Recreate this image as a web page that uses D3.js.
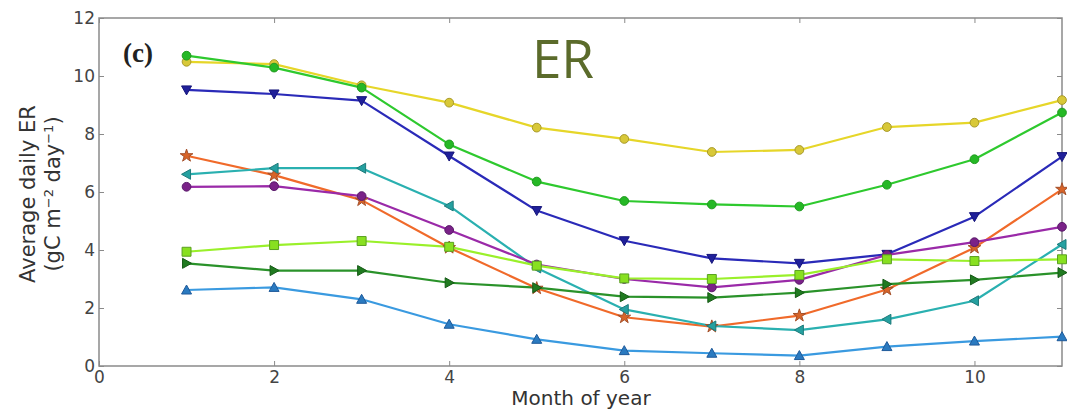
<!DOCTYPE html>
<html>
<head>
<meta charset="utf-8">
<script src="https://cdn.jsdelivr.net/npm/d3@7"></script>
<style>
    body { margin: 0; background: #fff; }
    svg { display: block; font-family: "DejaVu Sans", sans-serif; }
</style>
</head>
<body>
<svg id="chart" width="1067" height="418"></svg>
<script>
const months = [1, 2, 3, 4, 5, 6, 7, 8, 9, 10, 11];
const xTicks = [0, 2, 4, 6, 8, 10];
const yTicks = [0, 2, 4, 6, 8, 10, 12];

const yellowSeries = [10.49, 10.41, 9.68, 9.08, 8.22, 7.83, 7.38, 7.45, 8.24, 8.39, 9.17];
const greenSeries = [10.7, 10.29, 9.6, 7.64, 6.36, 5.69, 5.57, 5.5, 6.25, 7.13, 8.74];
const blueSeries = [9.52, 9.38, 9.15, 7.24, 5.36, 4.32, 3.71, 3.54, 3.85, 5.15, 7.22];
const orangeSeries = [7.25, 6.58, 5.72, 4.08, 2.68, 1.68, 1.36, 1.74, 2.64, 4.08, 6.09];
const tealSeries = [6.61, 6.82, 6.82, 5.52, 3.38, 1.95, 1.38, 1.24, 1.61, 2.25, 4.19];
const purpleSeries = [6.18, 6.2, 5.86, 4.69, 3.5, 3.0, 2.71, 2.97, 3.83, 4.27, 4.8];
const limeSeries = [3.94, 4.17, 4.31, 4.11, 3.46, 3.02, 3.0, 3.14, 3.68, 3.62, 3.68];
const darkGreenSeries = [3.54, 3.29, 3.29, 2.87, 2.7, 2.39, 2.36, 2.53, 2.82, 2.97, 3.22];
const skySeries = [2.62, 2.71, 2.3, 1.44, 0.92, 0.53, 0.44, 0.36, 0.67, 0.86, 1.01];

const seriesList = [
    {values: yellowSeries, line: "#e6d629", edge: "#a89a2a", fill: "#d8c838", marker: "circle"},
    {values: greenSeries, line: "#2ec92e", edge: "#1f9a1f", fill: "#25b825", marker: "circle"},
    {values: blueSeries, line: "#2a2ab8", edge: "#15157a", fill: "#20209a", marker: "down"},
    {values: orangeSeries, line: "#f06a2a", edge: "#a4502a", fill: "#d86428", marker: "star"},
    {values: tealSeries, line: "#2ab0b0", edge: "#1d7a7a", fill: "#25a0a0", marker: "left"},
    {values: purpleSeries, line: "#9a2aa8", edge: "#5a1a6a", fill: "#7a2288", marker: "circle"},
    {values: limeSeries, line: "#9af02a", edge: "#5aa020", fill: "#88e020", marker: "square"},
    {values: darkGreenSeries, line: "#2a922a", edge: "#155a15", fill: "#207a20", marker: "right"},
    {values: skySeries, line: "#3a9ae0", edge: "#1f5a9a", fill: "#2a7ac0", marker: "up"}
];

const plot = {left: 99, right: 1062, top: 18, bottom: 366};
const svg = d3.select("#chart");

const x = d3.scaleLinear().domain([0, 11]).range([plot.left, plot.right]);
const y = d3.scaleLinear().domain([0, 12]).range([plot.bottom, plot.top]);

// frame
svg.append("rect")
    .attr("x", plot.left).attr("y", plot.top)
    .attr("width", plot.right - plot.left).attr("height", plot.bottom - plot.top)
    .attr("fill", "none").attr("stroke", "#8a8a8a").attr("stroke-width", 1.5);

function styleAxis(g) {
    g.select(".domain").remove();
    g.selectAll(".tick line").attr("stroke", "#8a8a8a");
    g.selectAll(".tick text").attr("fill", "#444").style("font-size", "17px")
        .style("font-family", "'DejaVu Sans', sans-serif");
}

svg.append("g").attr("transform", `translate(0,${plot.bottom})`)
    .call(d3.axisBottom(x).tickValues(xTicks).tickSize(-5).tickPadding(5).tickFormat(d3.format("d")))
    .call(styleAxis);
svg.append("g").attr("transform", `translate(0,${plot.top})`)
    .call(d3.axisTop(x).tickValues(xTicks).tickSize(-5).tickFormat(""))
    .call(styleAxis);
svg.append("g").attr("transform", `translate(${plot.left},0)`)
    .call(d3.axisLeft(y).tickValues(yTicks).tickSize(-5).tickPadding(4).tickFormat(d3.format("d")))
    .call(styleAxis);
svg.append("g").attr("transform", `translate(${plot.right},0)`)
    .call(d3.axisRight(y).tickValues(yTicks).tickSize(-5).tickFormat(""))
    .call(styleAxis);

// lines
const line = d3.line().x((d, i) => x(months[i])).y(d => y(d));

seriesList.forEach(s => {
    svg.append("path").datum(s.values)
        .attr("d", line).attr("fill", "none")
        .attr("stroke", s.line).attr("stroke-width", 2.2).attr("stroke-linejoin", "round");
});

function markerPath(kind) {
    const r = 5;
    switch (kind) {
        case "circle":
            return d3.symbol(d3.symbolCircle, 60)();
        case "square":
            return d3.symbol(d3.symbolSquare, 80)();
        case "star":
            return d3.symbol(d3.symbolStar, 50)();
        case "up":
            return `M0,${-r} L${r},${r * 0.8} L${-r},${r * 0.8} Z`;
        case "down":
            return `M0,${r} L${r},${-r * 0.8} L${-r},${-r * 0.8} Z`;
        case "left":
            return `M${-r},0 L${r * 0.8},${-r} L${r * 0.8},${r} Z`;
        default:
            return `M${r},0 L${-r * 0.8},${-r} L${-r * 0.8},${r} Z`;
    }
}

seriesList.forEach(s => {
    svg.append("g").selectAll("path").data(s.values).join("path")
        .attr("d", markerPath(s.marker))
        .attr("transform", (d, i) => `translate(${x(months[i])},${y(d)})`)
        .attr("fill", s.fill).attr("stroke", s.edge).attr("stroke-width", 1);
});

// labels
svg.append("text").attr("x", 581).attr("y", 405)
    .attr("text-anchor", "middle").attr("fill", "#333").style("font-size", "20px")
    .text("Month of year");

const yLabel = svg.append("text").attr("transform", "translate(0,194) rotate(-90)")
    .attr("text-anchor", "middle").attr("fill", "#333").style("font-size", "21px");
yLabel.append("tspan").attr("x", 0).attr("y", 35).text("Average daily ER");
const unit = yLabel.append("tspan").attr("x", 0).attr("y", 60);
unit.append("tspan").text("(gC m");
unit.append("tspan").attr("baseline-shift", "super").style("font-size", "13px").text("\u22122");
unit.append("tspan").text(" day");
unit.append("tspan").attr("baseline-shift", "super").style("font-size", "13px").text("\u22121");
unit.append("tspan").text(")");

svg.append("text").attr("x", 123).attr("y", 62)
    .attr("fill", "#222").style("font-family", "'Liberation Serif', serif")
    .style("font-size", "27px").style("font-weight", "bold").text("(c)");

svg.append("text").attr("x", 563).attr("y", 78)
    .attr("text-anchor", "middle").attr("fill", "#5b6b2b")
    .style("font-family", "'Open Sans', sans-serif").style("font-size", "53px")
    .text("ER");
</script>
</body>
</html>
